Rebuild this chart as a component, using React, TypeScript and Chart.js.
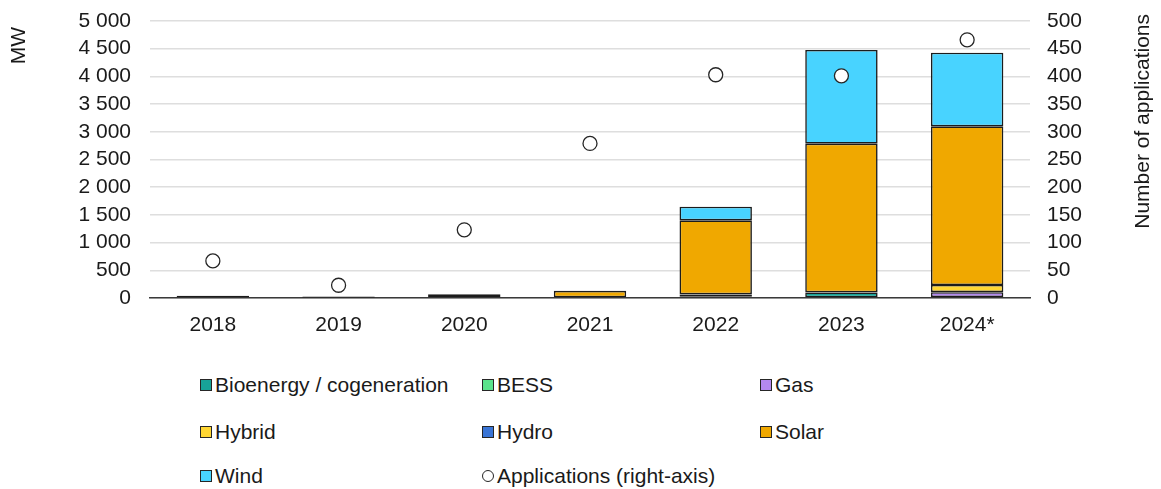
import React, { useEffect, useRef } from "react";
import { Chart, registerables } from "chart.js";

Chart.register(...registerables);

const years = ["2018", "2019", "2020", "2021", "2022", "2023", "2024*"];
const bioenergy = [20, 10, 0, 0, 30, 100, 15];
const bess = [0, 0, 0, 0, 0, 0, 0];
const gas = [0, 0, 0, 0, 0, 0, 90];
const hybrid = [0, 0, 0, 0, 0, 0, 130];
const hydro = [0, 0, 0, 0, 35, 0, 0];
const solar = [22, 15, 67, 130, 1337, 2685, 2864];
const wind = [0, 0, 0, 0, 246, 1692, 1329];
const applications = [67, 23, 123, 279, 403, 401, 466];

const mwTicks = [0, 500, 1000, 1500, 2000, 2500, 3000, 3500, 4000, 4500, 5000];
const appTicks = [0, 50, 100, 150, 200, 250, 300, 350, 400, 450, 500];

const FONT = "'Liberation Sans', Arial, sans-serif";
const TXT = "#1a1a1a";
const FS = 21;

const series = [
  { label: "Bioenergy / cogeneration", data: bioenergy, color: "#17A398" },
  { label: "BESS", data: bess, color: "#5BE38C" },
  { label: "Gas", data: gas, color: "#B388F0" },
  { label: "Hybrid", data: hybrid, color: "#FFD633" },
  { label: "Hydro", data: hydro, color: "#3A75D6" },
  { label: "Solar", data: solar, color: "#F0A800" },
  { label: "Wind", data: wind, color: "#48D3FF" },
];

const legendRows = [
  [0, 1, 2],
  [3, 4, 5],
  [6, -1],
];

const leftTitle = "MW";
const rightTitle = "Number of applications";

function fmt(v: number) {
  return String(v).replace(/\B(?=(\d{3})+(?!\d))/g, " ");
}

const titlesPlugin = {
  id: "axisTitles",
  afterDraw(chart: any) {
    const ctx = chart.ctx;
    const draw = (text: string, x: number, y: number) => {
      ctx.save();
      ctx.translate(x, y);
      ctx.rotate(-Math.PI / 2);
      ctx.font = `${FS}px ${FONT}`;
      ctx.fillStyle = TXT;
      ctx.textAlign = "right";
      ctx.textBaseline = "middle";
      ctx.fillText(text, 0, 0);
      ctx.restore();
    };
    draw(leftTitle, 19, 27);
    draw(rightTitle, 1143, 14);
  },
};

const fixPad = (s: any) => {
  s.paddingTop = 21;
  s.paddingBottom = 0;
};

export default function App() {
  const ref = useRef<HTMLCanvasElement | null>(null);

  useEffect(() => {
    if (!ref.current) return;
    const datasets: any[] = series.map((s) => ({
      type: "bar",
      label: s.label,
      data: s.data,
      backgroundColor: s.color,
      borderColor: "#1c1c1c",
      borderWidth: 1.6,
      borderSkipped: false,
      yAxisID: "y",
      stack: "mw",
      order: 1,
      categoryPercentage: 1,
      barPercentage: 0.576,
    }));
    datasets.push({
      type: "line",
      label: "Applications (right-axis)",
      data: applications,
      showLine: false,
      pointRadius: 7,
      pointHoverRadius: 7,
      pointBackgroundColor: "#ffffff",
      pointBorderColor: "#262626",
      pointBorderWidth: 1.3,
      yAxisID: "y1",
      order: 0,
    });

    const chart = new Chart(ref.current, {
      data: { labels: years, datasets },
      plugins: [titlesPlugin],
      options: {
        animation: false,
        responsive: false,
        maintainAspectRatio: false,
        layout: { padding: 0 },
        plugins: { legend: { display: false }, tooltip: { enabled: false } },
        scales: {
          x: {
            stacked: true,
            grid: { display: false, drawTicks: false },
            border: { display: true, color: "#3a3a3a", width: 1.5 },
            ticks: { color: TXT, font: { family: FONT, size: FS }, padding: 15, autoSkip: false, maxRotation: 0 },
            afterFit: (s: any) => {
              s.height = 42;
            },
          },
          y: {
            position: "left",
            stacked: true,
            min: 0,
            max: 5000,
            afterBuildTicks: (s: any) => {
              s.ticks = mwTicks.map((v) => ({ value: v }));
            },
            grid: { color: "#dedede", lineWidth: 1.5, drawTicks: false },
            border: { display: false },
            ticks: {
              autoSkip: false,
              color: TXT,
              font: { family: FONT, size: FS },
              padding: 19,
              callback: (v: any) => fmt(Number(v)),
            },
            afterFit: (s: any) => {
              s.width = 150;
              fixPad(s);
            },
          },
          y1: {
            position: "right",
            min: 0,
            max: 500,
            afterBuildTicks: (s: any) => {
              s.ticks = appTicks.map((v) => ({ value: v }));
            },
            grid: { drawOnChartArea: false, drawTicks: false },
            border: { display: false },
            ticks: {
              autoSkip: false,
              color: TXT,
              font: { family: FONT, size: FS },
              padding: 17,
            },
            afterFit: (s: any) => {
              s.width = 131;
              fixPad(s);
            },
          },
        },
      } as any,
    });
    return () => chart.destroy();
  }, []);

  const colX = [200, 482, 760];
  const rowY = [385, 432, 476];

  return (
    <div
      style={{
        position: "fixed",
        left: 0,
        top: 0,
        width: 1161,
        height: 489,
        background: "#fff",
        fontFamily: FONT,
      }}
    >
      <canvas ref={ref} width={1161} height={340} style={{ display: "block" }} />
      {legendRows.map((row, ri) =>
        row.map((idx, ci) => {
          const isApp = idx === -1;
          const label = isApp ? "Applications (right-axis)" : series[idx].label;
          return (
            <div
              key={ri + "-" + ci}
              style={{
                position: "absolute",
                left: colX[ci],
                top: rowY[ri] - 13,
                height: 26,
                display: "flex",
                alignItems: "center",
                fontSize: FS,
                color: TXT,
                whiteSpace: "nowrap",
              }}
            >
              <span
                style={{
                  display: "inline-block",
                  width: 10,
                  height: 10,
                  border: "1.3px solid #262626",
                  background: isApp ? "#fff" : series[idx].color,
                  borderRadius: isApp ? "50%" : 0,
                  marginRight: 3,
                }}
              />
              {label}
            </div>
          );
        })
      )}
    </div>
  );
}
